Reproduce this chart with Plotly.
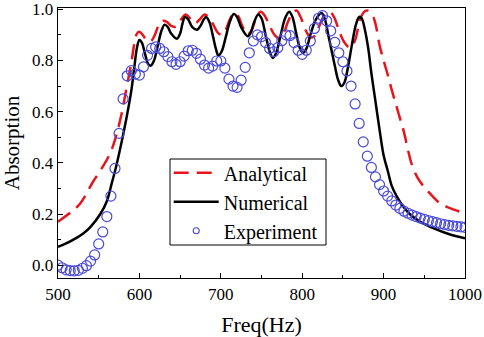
import plotly.graph_objects as go

# ---- Data ----
exp_freq = list(range(500, 1005, 5))
exp_abs = [
    0.000, -0.010, -0.018, -0.021, -0.022, -0.020, -0.012, -0.002, 0.016, 0.040,
    0.083, 0.130, 0.190, 0.270, 0.378, 0.515, 0.650, 0.740, 0.760, 0.747,
    0.743, 0.775, 0.820, 0.847, 0.853, 0.847, 0.834, 0.815, 0.795, 0.785,
    0.795, 0.817, 0.838, 0.840, 0.828, 0.805, 0.782, 0.770, 0.778, 0.798,
    0.798, 0.770, 0.727, 0.700, 0.695, 0.723, 0.773, 0.830, 0.876, 0.900,
    0.893, 0.870, 0.847, 0.834, 0.850, 0.877, 0.900, 0.897, 0.870, 0.840,
    0.824, 0.840, 0.876, 0.925, 0.965, 0.975, 0.955, 0.916, 0.871, 0.830,
    0.795, 0.759, 0.700, 0.630, 0.554, 0.482, 0.426, 0.382, 0.345, 0.315,
    0.290, 0.270, 0.251, 0.235, 0.222, 0.211, 0.203, 0.196, 0.190, 0.184,
    0.179, 0.174, 0.170, 0.166, 0.162, 0.159, 0.156, 0.154, 0.152, 0.150,
    0.148,
]

num_freq = [500, 510, 520, 531, 540, 552, 560, 566, 571, 576, 580, 585, 590, 594,
            597, 600, 603, 607, 611, 614, 618, 622, 627, 631, 635, 639, 646, 650,
            653, 656, 660, 665, 671, 675, 679, 682, 686, 690, 694, 697, 701, 706,
            711, 716, 720, 725, 733, 737, 741, 746, 750, 755, 760, 764, 768, 774,
            779, 784, 788, 793, 797, 801, 805, 810, 816, 821, 824, 828, 832, 836,
            840, 844, 848, 852, 856, 861, 866, 870, 873, 877, 881, 885, 890, 895,
            900, 905, 910, 916, 925, 932, 945, 961, 980, 1000]
num_abs = [0.072, 0.085, 0.102, 0.124, 0.150, 0.200, 0.250, 0.320, 0.380, 0.450,
           0.510, 0.590, 0.680, 0.780, 0.850, 0.880, 0.870, 0.825, 0.785, 0.780,
           0.800, 0.850, 0.915, 0.940, 0.930, 0.905, 0.885, 0.905, 0.945, 0.970,
           0.960, 0.930, 0.920, 0.935, 0.960, 0.970, 0.950, 0.900, 0.845, 0.820,
           0.835, 0.890, 0.950, 0.982, 0.970, 0.930, 0.895, 0.910, 0.950, 0.980,
           0.965, 0.900, 0.835, 0.810, 0.830, 0.905, 0.965, 0.990, 0.970, 0.900,
           0.850, 0.830, 0.845, 0.900, 0.955, 0.980, 0.985, 0.960, 0.900, 0.840,
           0.780, 0.725, 0.700, 0.715, 0.770, 0.860, 0.940, 0.970, 0.965, 0.920,
           0.850, 0.750, 0.640, 0.530, 0.430, 0.370, 0.310, 0.270, 0.225, 0.200,
           0.170, 0.145, 0.122, 0.105]

ana_freq = [500, 515, 527, 543, 555, 564, 570, 578, 584, 590, 594, 597, 600, 604,
            609, 614, 619, 624, 629, 634, 639, 645, 651, 657, 662, 668, 674, 680,
            685, 690, 696, 701, 706, 711, 716, 721, 727, 733, 738, 744, 749, 754,
            760, 766, 772, 777, 783, 788, 793, 798, 804, 810, 815, 821, 828, 834,
            839, 846, 852, 859, 865, 871, 876, 880, 884, 888, 891, 895, 900, 905,
            910, 915, 920, 925, 930, 935, 942, 950, 960, 970, 980, 990, 1000]
ana_abs = [0.170, 0.205, 0.240, 0.326, 0.385, 0.437, 0.490, 0.590, 0.690, 0.790,
           0.870, 0.905, 0.912, 0.900, 0.878, 0.875, 0.900, 0.940, 0.955, 0.950,
           0.935, 0.932, 0.960, 0.980, 0.965, 0.945, 0.960, 0.980, 0.970, 0.945,
           0.910, 0.900, 0.920, 0.960, 0.985, 0.975, 0.930, 0.900, 0.920, 0.970,
           0.990, 0.975, 0.935, 0.900, 0.885, 0.905, 0.955, 0.985, 0.995, 0.970,
           0.920, 0.890, 0.895, 0.935, 0.980, 0.990, 0.970, 0.910, 0.870, 0.850,
           0.880, 0.960, 0.990, 0.995, 0.985, 0.965, 0.930, 0.860, 0.800, 0.745,
           0.685, 0.630, 0.575, 0.520, 0.450, 0.390, 0.340, 0.305, 0.270, 0.240,
           0.225, 0.213, 0.203]

x_ticks = [500, 600, 700, 800, 900, 1000]

FONT = "Times New Roman, Liberation Serif, DejaVu Serif, serif"
BLUE = "#4a4ad8"

fig = go.Figure()
fig.add_trace(go.Scatter(
    x=ana_freq, y=ana_abs, name="Analytical", mode="lines",
    line=dict(color="#e8141b", width=2.5, dash="15px,8px", shape="spline", smoothing=1.0),
))
fig.add_trace(go.Scatter(
    x=num_freq, y=num_abs, name="Numerical", mode="lines",
    line=dict(color="black", width=2.5, shape="spline", smoothing=1.0),
))
fig.add_trace(go.Scatter(
    x=exp_freq, y=exp_abs, name="Experiment", mode="markers", showlegend=False,
    marker=dict(symbol="circle-open", size=10, color=BLUE, line=dict(width=1.2, color=BLUE)),
))
# legend-only entry with a smaller symbol, as in the reference legend
fig.add_trace(go.Scatter(
    x=[None], y=[None], name="Experiment", mode="markers",
    marker=dict(symbol="circle-open", size=6, color=BLUE, line=dict(width=1.1, color=BLUE)),
))

axis_common = dict(
    showline=True, linecolor="black", linewidth=1.3, mirror=True,
    ticks="inside", ticklen=5, tickwidth=1, tickcolor="black",
    showgrid=False, zeroline=False, automargin=False,
    tickfont=dict(family=FONT, size=17, color="black"),
)

fig.update_xaxes(
    range=[500, 1000], tickvals=x_ticks,
    minor=dict(ticks="inside", ticklen=3, dtick=50, tick0=500, tickcolor="black"),
    title=dict(text="Freq(Hz)", font=dict(family=FONT, size=22, color="black"), standoff=14),
    **axis_common,
)
fig.update_yaxes(
    range=[-0.05, 1.005], tick0=0, dtick=0.2, tickformat=".1f",
    minor=dict(ticks="inside", ticklen=3, dtick=0.1, tick0=0, tickcolor="black"),
    title=dict(text="Absorption", font=dict(family=FONT, size=21, color="black"), standoff=6),
    **axis_common,
)

# legend frame (drawn as a paper-referenced rectangle)
fig.add_shape(type="rect", xref="paper", yref="paper",
              x0=0.2752, x1=0.6585, y0=0.1222, y1=0.4407,
              line=dict(color="black", width=1), fillcolor="white", layer="above")

fig.update_layout(
    width=484, height=337,
    margin=dict(l=58, r=19, t=8, b=59, autoexpand=False),
    plot_bgcolor="white", paper_bgcolor="white",
    font=dict(family=FONT, color="black"),
    legend=dict(
        x=0.272, y=0.462, xanchor="left", yanchor="top",
        bgcolor="rgba(0,0,0,0)", borderwidth=0,
        font=dict(family=FONT, size=20, color="black"),
        itemwidth=45, tracegroupgap=0,
    ),
    showlegend=True,
    hovermode=False,
)

fig.write_html(
    "out.html",
    config={"displayModeBar": False, "staticPlot": True},
    post_script="document.body.style.margin='0';document.body.style.padding='0';",
)
